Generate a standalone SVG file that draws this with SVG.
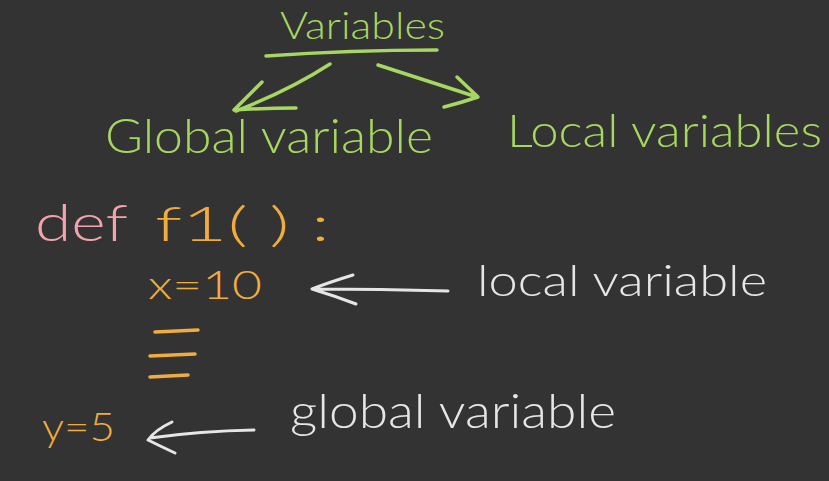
<svg xmlns="http://www.w3.org/2000/svg" width="829" height="481" viewBox="0 0 829 481">
<style>
text{font-family:Lato,"Liberation Sans",sans-serif;font-weight:300}
.g{fill:#a6d760}
.o{fill:#f0ac3c}
.p{fill:#f2a3ac}
.w{fill:#e6e6e6}
.sg{stroke:#a6d760;stroke-width:3.5;fill:none;stroke-linecap:round;stroke-linejoin:round}
.so{stroke:#f0ac3c;stroke-width:3.5;fill:none;stroke-linecap:round}
.sw{stroke:#e6e6e6;stroke-width:3;fill:none;stroke-linecap:round;stroke-linejoin:round}
</style>
<rect width="829" height="481" fill="#333333"/>
<g id="variables">
<text class="g" x="280" y="39" font-size="38" textLength="165" lengthAdjust="spacingAndGlyphs">Variables</text>
<path class="sg" d="M266 56 Q350 50 437 50"/>
</g>
<g id="global-variable">
<text class="g" x="105" y="153" font-size="48" textLength="328" lengthAdjust="spacingAndGlyphs">Global variable</text>
</g>
<g id="local-variables">
<text class="g" x="507" y="147" font-size="46" textLength="315" lengthAdjust="spacingAndGlyphs">Local variables</text>
</g>
<g id="code">
<text class="p" x="35" y="241" font-size="52" textLength="93" lengthAdjust="spacingAndGlyphs">def</text>
<text class="o" x="155" y="241" font-size="48" textLength="175" lengthAdjust="spacingAndGlyphs">f1( ) :</text>
<text class="o" x="148" y="299" font-size="40" textLength="114" lengthAdjust="spacingAndGlyphs">x=10</text>
<path class="so" d="M155 332 L198 330 M150 356 L195 354 M150 377 L188 375"/>
<text class="o" x="42" y="441" font-size="40" textLength="73" lengthAdjust="spacingAndGlyphs">y=5</text>
</g>
<g id="local-label">
<text class="w" x="477" y="296" font-size="44" textLength="290" lengthAdjust="spacingAndGlyphs">local variable</text>
</g>
<g id="global-label">
<text class="w" x="290" y="428" font-size="48" textLength="326" lengthAdjust="spacingAndGlyphs">global variable</text>
</g>
<g id="connectors">
<path class="sg" d="M330 64 Q290 90 236 111 M262 82 L234 110 Q265 108 296 108"/>
<path class="sg" d="M378 65 Q430 82 477 97 M457 77 L478 97 Q460 103 444 107"/>
<path class="sw" d="M448 291 Q380 289 314 289 M353 275 Q330 282 312 289 Q335 296 356 304"/>
<path class="sw" d="M254 430 Q200 431 150 438 M172 422 Q155 430 148 440 Q160 446 175 453"/>
</g>
</svg>
